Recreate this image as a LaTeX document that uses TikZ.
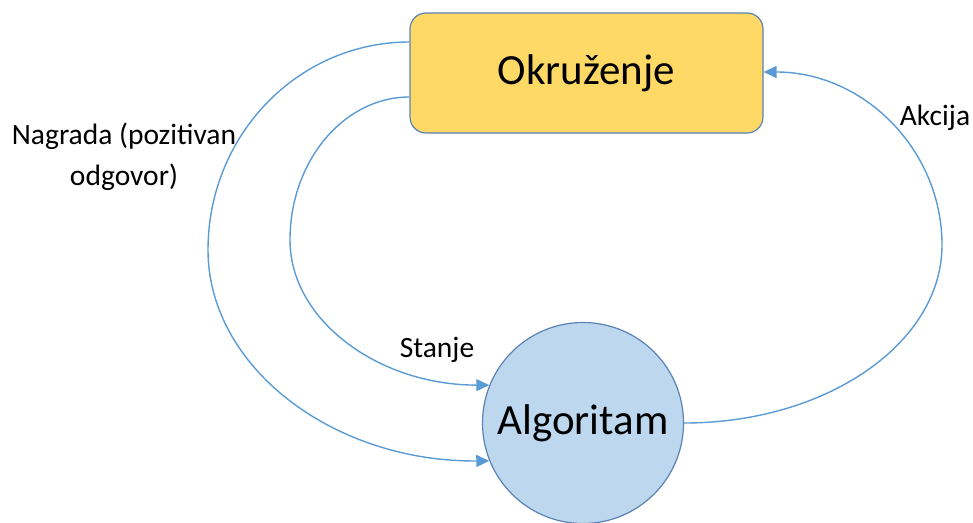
\documentclass[tikz,border=0pt]{standalone}
\usepackage{fontspec}
\setmainfont{Carlito}
\usetikzlibrary{calc,arrows.meta}
\definecolor{envfill}{HTML}{FFD966}
\definecolor{algfill}{HTML}{BDD7EE}
\definecolor{shapeedge}{HTML}{5A82B4}
\definecolor{arrowblue}{HTML}{5B9BD5}
\tikzset{
  envbox/.style={draw=shapeedge, line width=1.2pt, fill=envfill, rounded corners=16pt,
    minimum width=353pt, minimum height=120pt, inner sep=0pt, font=\fontsize{43}{50}\selectfont},
  algcircle/.style={circle, draw=shapeedge, line width=1.2pt, fill=algfill,
    minimum size=201pt, inner sep=0pt, font=\fontsize{43}{50}\selectfont},
  conn/.style={draw=arrowblue, line width=1.4pt, -{Triangle[length=13pt,width=12pt]}},
  lbl/.style={font=\fontsize{29.5}{41}\selectfont, inner sep=0pt, align=center}
}
\begin{document}
\begin{tikzpicture}[x=1pt,y=-1pt]
\useasboundingbox (0,0) rectangle (973,522);
\node[envbox] (env) at (586.5,73) {Okruženje};
\node[algcircle] (alg) at (583,423) {Algoritam};
\coordinate (nstart) at ($(env.west)+(0,-31)$);
\coordinate (sstart) at ($(env.west)+(0,24)$);
\coordinate (nmid) at (208,250);
\coordinate (smid) at (290,240);
\coordinate (amid) at (942,245);
\draw[conn] (nstart) .. controls (298,42) and (208,135) .. (nmid)
  .. controls (208,367) and (333,462) .. (alg.202);
\draw[conn] (sstart) .. controls (344,97) and (290,161) .. (smid)
  .. controls (290,320) and (378,385) .. (alg.158);
\draw[conn] (alg.east) .. controls (827,423) and (942,343) .. (amid)
  .. controls (942,150) and (864,72) .. (env.east |- 0,72);
\node[lbl] (nlbl) at (124,157) {Nagrada (pozitivan\\odgovor)};
\node[lbl] (slbl) at (437,350) {Stanje};
\node[lbl] (albl) at (935,118) {Akcija};
\end{tikzpicture}
\end{document}
